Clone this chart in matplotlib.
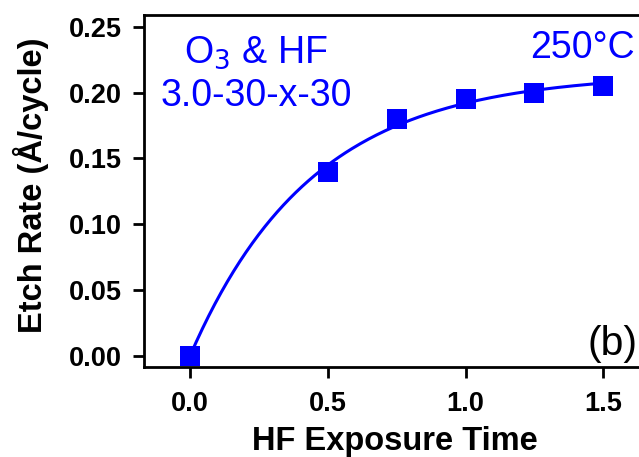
import matplotlib
matplotlib.use("Agg")
import matplotlib.pyplot as plt
import numpy as np

# HF exposure time and measured etch rate (Å/cycle)
exposure = np.array([0.0, 0.5, 0.75, 1.0, 1.25, 1.5])
etch_rate = np.array([0.0, 0.140, 0.180, 0.195, 0.200, 0.205])

x_ticks = [0.0, 0.5, 1.0, 1.5]
y_ticks = [0.00, 0.05, 0.10, 0.15, 0.20, 0.25]

BLUE = "#0000FF"


def fit_saturation(t, y):
    # y = A * (1 - exp(-k t)); grid over k, linear least squares for A
    best = None
    for k in np.linspace(0.5, 8.0, 3001):
        basis = 1.0 - np.exp(-k * t)
        a = np.dot(basis, y) / np.dot(basis, basis)
        err = np.sum((a * basis - y) ** 2)
        if best is None or err < best[0]:
            best = (err, a, k)
    return best[1], best[2]


plt.rcParams.update({
    "font.family": ["Liberation Sans", "DejaVu Sans"],
    "axes.linewidth": 2.0,
})

fig = plt.figure(figsize=(6.39, 4.57), dpi=100)
ax = fig.add_axes([144 / 639, 1 - 367 / 457, (645 - 144) / 639, (367 - 15) / 457])

a, k = fit_saturation(exposure, etch_rate)
t_fit = np.linspace(exposure.min(), exposure.max(), 200)
ax.plot(t_fit, a * (1 - np.exp(-k * t_fit)), color=BLUE, linewidth=2.2, zorder=2)
ax.plot(exposure, etch_rate, linestyle="none", marker="s", markersize=14,
        color=BLUE, markeredgewidth=0, zorder=3)

ax.set_xlim(-0.167, 1.6515)
ax.set_ylim(-0.0084, 0.2589)
ax.set_xticks(x_ticks)
ax.set_yticks(y_ticks)
ax.set_xticklabels([f"{v:.1f}" for v in x_ticks], fontweight="bold")
ax.set_yticklabels([f"{v:.2f}" for v in y_ticks], fontweight="bold")
ax.tick_params(axis="both", direction="out", length=8, width=2.0, labelsize=19.5)
ax.tick_params(axis="x", pad=9)
ax.tick_params(axis="y", pad=8)
ax.spines["right"].set_visible(False)

ax.set_xlabel("HF Exposure Time", fontsize=23.5, fontweight="bold", labelpad=7)
ax.set_ylabel("Etch Rate (Å/cycle)", fontsize=23.5, fontweight="bold", labelpad=17)
ax.yaxis.set_label_coords(-0.19, 0.517)

fig.text(256 / 639, 1 - 63 / 457, "O$_3$ & HF", color=BLUE, fontsize=27,
         ha="center", va="baseline")
fig.text(256 / 639, 1 - 106 / 457, "3.0-30-x-30", color=BLUE, fontsize=27,
         ha="center", va="baseline")
fig.text(635 / 639, 1 - 58 / 457, "250°C", color=BLUE, fontsize=27,
         ha="right", va="baseline")
fig.text(637 / 639, 1 - 355 / 457, "(b)", color="black", fontsize=29.5,
         ha="right", va="baseline")

fig.savefig("out.png", dpi=100)
